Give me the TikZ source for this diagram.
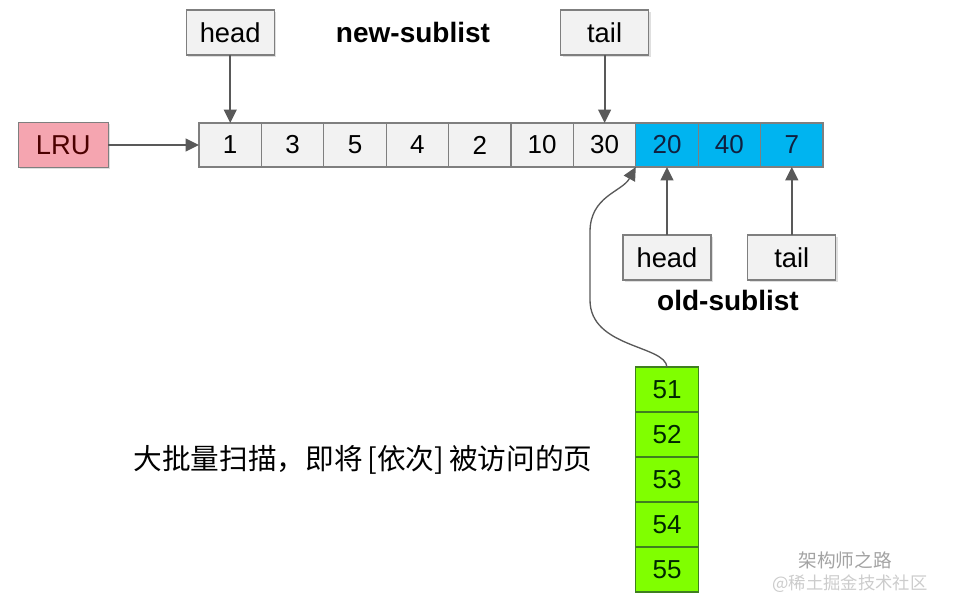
\documentclass[tikz,border=0pt]{standalone}
\usepackage{fontspec}
\setmainfont{Liberation Sans}
\newfontfamily\cjk{Noto Sans CJK SC}
\usetikzlibrary{positioning,arrows.meta,shadows}

\definecolor{cellgray}{HTML}{7F7F7F}
\definecolor{cellfill}{HTML}{F2F2F2}
\definecolor{lrupink}{HTML}{F5A5B0}
\definecolor{oldblue}{HTML}{00B4F0}
\definecolor{navytext}{HTML}{102040}
\definecolor{pagegreen}{HTML}{80FF00}
\definecolor{pageedge}{HTML}{3F7F1F}
\definecolor{arrowgray}{HTML}{595959}

\begin{document}
\begin{tikzpicture}[
  x=0.75pt, y=-0.75pt,
  node distance = 0pt,
  cell/.style = {
    draw=cellgray, fill=cellfill, line width=1pt,
    minimum width=46.8pt, minimum height=33pt,
    inner sep=0pt, outer sep=0pt,
    font=\fontsize{19.5}{22}\selectfont
  },
  oldcell/.style = {cell, fill=oldblue, text=navytext},
  pagecell/.style = {cell, fill=pagegreen, draw=pageedge, minimum height=33.75pt, text=black!85!green},
  tag/.style = {
    draw=cellgray, fill=cellfill, line width=1pt,
    minimum width=66pt, minimum height=33.75pt,
    inner sep=0pt, outer sep=0pt,
    font=\fontsize{20.5}{23}\selectfont,
    drop shadow={shadow xshift=1.5pt, shadow yshift=-1.5pt, opacity=0.25}
  },
  lru/.style = {tag, fill=lrupink, minimum width=67.5pt, text=black!70!red},
  title/.style = {font=\fontsize{21}{24}\selectfont\bfseries},
  link/.style = {-{Triangle[length=10pt, width=9.5pt]}, line width=1.5pt, draw=arrowgray, color=arrowgray}
]

\useasboundingbox (0,0) rectangle (964,599);

% the list
\node[cell, anchor=north west] (c1) at (199,123) {1};
\node[cell, right = of c1] (c3) {3};
\node[cell, right = of c3] (c5) {5};
\node[cell, right = of c5] (c4) {4};
\node[cell, right = of c4] (c2) {2};
\node[cell, right = of c2] (c10) {10};
\node[cell, right = of c10] (c30) {30};
\node[oldcell, right = of c30] (c20) {20};
\node[oldcell, right = of c20] (c40) {40};
\node[oldcell, right = of c40] (c7) {7};

\node[lru, left = 68pt of c1] (lru) {LRU};
\draw[link] (lru) -- (c1);

% new-sublist
\node[tag, above = 51pt of c1] (newhead) {head};
\node[tag, above = 51pt of c30] (newtail) {tail};
\node[title] (newname) at (413,32) {new-sublist};
\draw[link] (newhead) -- (c1);
\draw[link] (newtail) -- (c30);

% old-sublist
\node[tag, below = 51pt of c20] (oldhead) {head};
\node[tag, below = 51pt of c7] (oldtail) {tail};
\node[title] (oldname) at (728,300) {old-sublist};
\draw[link] (oldhead) -- (c20);
\draw[link] (oldtail) -- (c7);

% pages
\node[pagecell, below = 150pt of c20] (p51) {51};
\node[pagecell, below = of p51] (p52) {52};
\node[pagecell, below = of p52] (p53) {53};
\node[pagecell, below = of p53] (p54) {54};
\node[pagecell, below = of p54] (p55) {55};

\draw[link, line width=1pt] (p51.north) .. controls (665,345) and (590,348) .. (590,300)
  -- (590,232) .. controls (590,196) and (622,192) .. (c20.south west);

\node[font=\cjk\fontsize{21.5}{25}\selectfont] (scan) at (363,460) {大批量扫描，即将\,[依次]\,被访问的页};

% watermark
\node[font=\cjk\fontsize{14}{17}\selectfont, text=black!45, opacity=0.8] (mark) at (845,560) {架构师之路};
\node[font=\cjk\fontsize{13}{16}\selectfont, text=black!25, opacity=0.8] (site) at (850,584) {@稀土掘金技术社区};

\end{tikzpicture}
\end{document}
